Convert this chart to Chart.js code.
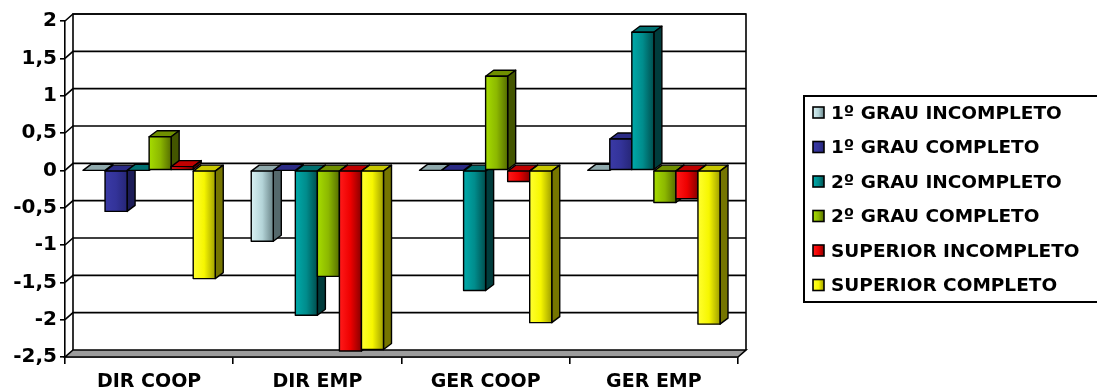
<!DOCTYPE html>
<html>
<head>
<meta charset="utf-8">
<script src="https://cdn.jsdelivr.net/npm/chart.js@4/dist/chart.umd.min.js"></script>
<style>
html,body{margin:0;padding:0;background:#fff;}
#wrap{width:1097px;height:389px;}
</style>
</head>
<body>
<div id="wrap"><canvas id="c" width="1097" height="389"></canvas></div>
<script>
const categories = ['DIR COOP', 'DIR EMP', 'GER COOP', 'GER EMP'];
const seriesNames = ['1º GRAU INCOMPLETO', '1º GRAU COMPLETO', '2º GRAU INCOMPLETO', '2º GRAU COMPLETO', 'SUPERIOR INCOMPLETO', 'SUPERIOR COMPLETO'];
const grau1Incompleto = [0, -0.95, 0, 0];
const grau1Completo = [-0.55, 0, 0, 0.42];
const grau2Incompleto = [0, -1.94, -1.61, 1.85];
const grau2Completo = [0.45, -1.42, 1.26, -0.43];
const superiorIncompleto = [0.05, -2.42, -0.15, -0.38];
const superiorCompleto = [-1.45, -2.40, -2.04, -2.06];
const yTickValues = [-2.5, -2, -1.5, -1, -0.5, 0, 0.5, 1, 1.5, 2];
const yTickLabels = ['-2,5', '-2', '-1,5', '-1', '-0,5', '0', '0,5', '1', '1,5', '2'];

// colour sets: [light, base, dark(front right), side, top]
const palettes = [
  ['#d8f0f2', '#b4d4d8', '#6a8488', '#55696c', '#8fa9ac'],
  ['#3a3aa6', '#333399', '#262677', '#1c1c58', '#2b2b85'],
  ['#00aaaa', '#008c8c', '#004f4f', '#003c3c', '#007070'],
  ['#a6dc00', '#8cb800', '#566e00', '#435500', '#6f8f00'],
  ['#ff1a1a', '#ee0000', '#880000', '#6a0000', '#c00000'],
  ['#ffff30', '#f6f600', '#a0a000', '#757500', '#c8c800']
];
const seriesValues = [grau1Incompleto, grau1Completo, grau2Incompleto, grau2Completo, superiorIncompleto, superiorCompleto];

const FONT = "'DejaVu Sans', sans-serif";
const DX = 8, DY = -7;      // wall depth
const BX = 8, BY = -6;      // bar depth

function poly(ctx, pts, fill) {
  ctx.beginPath();
  ctx.moveTo(pts[0][0], pts[0][1]);
  for (let i = 1; i < pts.length; i++) ctx.lineTo(pts[i][0], pts[i][1]);
  ctx.closePath();
  if (fill) { ctx.fillStyle = fill; ctx.fill(); }
  ctx.stroke();
}

const wallPlugin = {
  id: 'wall3d',
  beforeDatasetsDraw(chart) {
    const ctx = chart.ctx, ca = chart.chartArea, ys = chart.scales.y;
    ctx.save();
    ctx.lineWidth = 1.6;
    ctx.strokeStyle = '#000';
    ctx.fillStyle = '#fff';
    ctx.fillRect(ca.left + DX, ca.top + DY, ca.right - ca.left, ca.bottom - ca.top);
    yTickValues.forEach(v => {
      const y = ys.getPixelForValue(v);
      if (v === yTickValues[0]) return;
      ctx.beginPath();
      ctx.moveTo(ca.left, y);
      ctx.lineTo(ca.left + DX, y + DY);
      ctx.lineTo(ca.right + DX, y + DY);
      ctx.stroke();
    });
    ctx.beginPath();
    ctx.moveTo(ca.left + DX, ca.bottom + DY);
    ctx.lineTo(ca.left + DX, ca.top + DY);
    ctx.lineTo(ca.right + DX, ca.top + DY);
    ctx.lineTo(ca.right + DX, ca.bottom + DY);
    ctx.stroke();
    poly(ctx, [[ca.left, ca.bottom], [ca.right, ca.bottom], [ca.right + DX, ca.bottom + DY], [ca.left + DX, ca.bottom + DY]], '#9c9c9c');
    ctx.restore();
  },
  afterDatasetsDraw(chart) {
    const ctx = chart.ctx;
    ctx.save();
    ctx.lineWidth = 1.4;
    ctx.strokeStyle = '#000';
    ctx.lineJoin = 'round';
    const n = chart.data.datasets.length;
    for (let i = 0; i < categories.length; i++) {
      for (let j = 0; j < n; j++) {
        const el = chart.getDatasetMeta(j).data[i];
        const p = palettes[j];
        const w = el.width;
        const l = el.x - w / 2, r = el.x + w / 2;
        const yt = Math.min(el.y, el.base), yb = Math.max(el.y, el.base);
        poly(ctx, [[l, yt], [r, yt], [r + BX, yt + BY], [l + BX, yt + BY]], p[4]);
        if (yb - yt > 0.5) {
          poly(ctx, [[r, yt], [r + BX, yt + BY], [r + BX, yb + BY], [r, yb]], p[3]);
          const g = ctx.createLinearGradient(l, 0, r, 0);
          g.addColorStop(0, p[0]);
          g.addColorStop(0.5, p[1]);
          g.addColorStop(1, p[2]);
          ctx.fillStyle = g;
          ctx.fillRect(l, yt, w, yb - yt);
          ctx.strokeRect(l, yt, w, yb - yt);
        }
      }
    }
    ctx.restore();
  },
  afterDraw(chart) {
    const ctx = chart.ctx;
    ctx.save();
    ctx.strokeStyle = '#000';
    ctx.lineWidth = 2;
    ctx.beginPath();
    ctx.moveTo(1097, 96);
    ctx.lineTo(804, 96);
    ctx.lineTo(804, 302);
    ctx.lineTo(1097, 302);
    ctx.stroke();
    ctx.font = 'bold 18.5px ' + FONT;
    ctx.textBaseline = 'middle';
    ctx.textAlign = 'left';
    chart.data.datasets.forEach((ds, k) => {
      const cy = 113 + k * 34.5;
      const p = palettes[k];
      const g = ctx.createLinearGradient(813, 0, 824, 0);
      g.addColorStop(0, p[0]);
      g.addColorStop(0.5, p[1]);
      g.addColorStop(1, p[2]);
      ctx.fillStyle = g;
      ctx.fillRect(813, cy - 6, 11, 11);
      ctx.lineWidth = 1.6;
      ctx.strokeRect(813, cy - 6, 11, 11);
      ctx.fillStyle = '#000';
      ctx.fillText(ds.label, 831, cy + 1);
    });
    ctx.restore();
  }
};

const datasets = seriesNames.map((name, k) => ({
  label: name,
  data: seriesValues[k],
  backgroundColor: palettes[k][1],
  borderColor: '#000',
  borderWidth: 0,
  barPercentage: 1,
  categoryPercentage: 0.786
}));

new Chart(document.getElementById('c'), {
  type: 'bar',
  data: { labels: categories, datasets },
  options: {
    responsive: false,
    animation: false,
    devicePixelRatio: 1,
    layout: { padding: { left: 0, right: 359, top: 21, bottom: 0 } },
    plugins: { legend: { display: false }, tooltip: { enabled: false } },
    scales: {
      x: {
        grid: { drawOnChartArea: false, drawTicks: true, tickLength: 7, color: '#000', lineWidth: 1.6, offset: true },
        border: { display: true, color: '#000', width: 1.6 },
        ticks: { color: '#000', font: { family: FONT, size: 19, weight: 'bold' }, padding: 7, maxRotation: 0 },
        afterFit(s) { s.height = 32; }
      },
      y: {
        min: -2.5, max: 2,
        ticks: {
          stepSize: 0.5,
          color: '#000',
          padding: 3,
          font: { family: FONT, size: 20, weight: 'bold' },
          callback: (v) => { const idx = yTickValues.indexOf(Math.round(v * 10) / 10); return idx >= 0 ? yTickLabels[idx] : ''; }
        },
        grid: { drawOnChartArea: false, drawTicks: true, tickLength: 5, color: '#000', lineWidth: 1.6 },
        border: { display: true, color: '#000', width: 1.6 },
        afterFit(s) { s.width = 65; }
      }
    }
  },
  plugins: [wallPlugin]
});
</script>
</body>
</html>
